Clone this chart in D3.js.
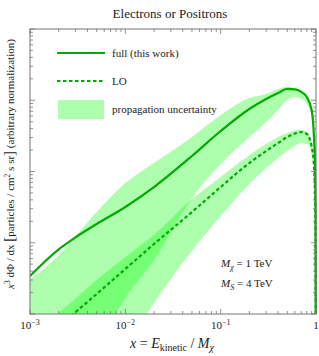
<!DOCTYPE html>
<html>
<head>
<meta charset="utf-8">
<script src="https://cdn.jsdelivr.net/npm/d3@7"></script>
<style>
  body { margin: 0; background: #fff; }
  text { font-family: "Liberation Serif", "DejaVu Serif", serif; fill: #222; }
</style>
</head>
<body>
<script>
//values, x = E_kinetic / M_chi
var xVals = [0.001, 0.002, 0.003, 0.005, 0.01, 0.02, 0.05, 0.1, 0.2, 0.3, 0.4, 0.5, 0.6, 0.7, 0.8, 0.9, 0.95, 0.98, 0.99, 0.999];
//full (this work)
var fullVals = [3.41e-4, 8.07e-4, 1.19e-3, 1.83e-3, 3.18e-3, 6.05e-3, 0.0165, 0.037, 0.0753, 0.104, 0.126, 0.144, 0.142, 0.131, 0.111, 0.073, 0.0325, 0.0105, 0.0021, 1e-7];
//LO
var loVals = [3.0e-5, 6.6e-5, 1.06e-4, 1.91e-4, 4.29e-4, 9.6e-4, 2.7e-3, 6.05e-3, 0.01315, 0.0194, 0.0251, 0.0305, 0.0341, 0.0358, 0.0336, 0.0228, 0.0123, 0.004, 7.9e-4, 1e-7];
//propagation uncertainty bands
var fullUpper = [3.1e-4, 6.7e-4, 1.24e-3, 2.7e-3, 6.9e-3, 0.0132, 0.0305, 0.062, 0.1076, 0.1225, 0.144, 0.153, 0.146, 0.133, 0.113, 0.074, 0.033, 0.0106, 0.0021, 1e-7];
var fullLower = [8.9e-7, 4.5e-6, 1.12e-5, 3.56e-5, 1.68e-4, 5.73e-4, 4.25e-3, 0.0127, 0.0305, 0.0495, 0.073, 0.101, 0.111, 0.104, 0.0885, 0.060, 0.0277, 0.0089, 0.00177, 1e-7];
var loUpper = [4.5e-5, 1.03e-4, 1.65e-4, 3.0e-4, 6.3e-4, 1.29e-3, 4.1e-3, 8.4e-3, 0.0171, 0.0243, 0.0305, 0.0347, 0.0376, 0.0382, 0.0358, 0.0243, 0.0131, 0.00425, 8.4e-4, 1e-7];
var loLower = [2.9e-7, 1.19e-6, 2.77e-6, 8.0e-6, 3.33e-5, 1.43e-4, 7.7e-4, 2.37e-3, 6.7e-3, 0.0112, 0.0155, 0.0194, 0.0228, 0.0251, 0.0243, 0.0176, 0.00984, 0.0034, 6.7e-4, 1e-7];

//tick labels
var xMajor = [0.001, 0.01, 0.1, 1];
var xLabels = [["10", "\u22123"], ["10", "\u22122"], ["10", "\u22121"], ["1", ""]];
var yMajor = [1e-4, 1e-3, 1e-2, 1e-1, 1];

var width = 319, height = 356;
var plot = {left: 30, right: 316, top: 29, bottom: 314};

var green = "#00aa00";
var bandFill = "rgb(0,255,0)";
var bandOpacity = 0.32;

var svg = d3.select("body").append("svg")
    .attr("width", width)
    .attr("height", height);

var x = d3.scaleLog().domain([1e-3, 1]).range([plot.left, plot.right]);
var y = d3.scaleLog().domain([1e-4, 1]).range([plot.bottom, plot.top]);

//minor tick values 2..9 for each decade
function minors(lo, hi) {
    var out = [];
    for (var e = lo; e < hi; e++) {
        for (var m = 2; m <= 9; m++) out.push(m * Math.pow(10, e));
    }
    return out;
}
var xMinor = minors(-3, 0);
var yMinor = minors(-4, 0);

svg.append("clipPath").attr("id", "clip")
  .append("rect")
    .attr("x", plot.left)
    .attr("y", plot.top)
    .attr("width", plot.right - plot.left + 2)
    .attr("height", plot.bottom - plot.top);

var g = svg.append("g").attr("clip-path", "url(#clip)");

//bands
function band(upper, lower) {
    return d3.area()
        .x(function(d, i) { return x(xVals[i]); })
        .y0(function(d, i) { return y(lower[i]); })
        .y1(function(d, i) { return y(upper[i]); })
        .curve(d3.curveMonotoneX)(xVals);
}
g.append("path")
    .attr("d", band(fullUpper, fullLower))
    .attr("fill", bandFill)
    .attr("fill-opacity", bandOpacity);
g.append("path")
    .attr("d", band(loUpper, loLower))
    .attr("fill", bandFill)
    .attr("fill-opacity", bandOpacity);

//curves
var line = d3.line()
    .x(function(d, i) { return x(xVals[i]); })
    .y(function(d) { return y(d); })
    .curve(d3.curveMonotoneX);

g.append("path")
    .attr("d", line(fullVals))
    .attr("fill", "none")
    .attr("stroke", green)
    .attr("stroke-width", 2.2);

g.append("path")
    .attr("d", line(loVals))
    .attr("fill", "none")
    .attr("stroke", green)
    .attr("stroke-width", 2.2)
    .attr("stroke-dasharray", "3.5,2.5");

//frame
svg.append("rect")
    .attr("x", plot.left)
    .attr("y", plot.top)
    .attr("width", plot.right - plot.left)
    .attr("height", plot.bottom - plot.top)
    .attr("fill", "none")
    .attr("stroke", "#777")
    .attr("stroke-width", 1);

//ticks on all four sides, pointing in
var ticks = svg.append("g").attr("stroke", "#777").attr("stroke-width", 0.8);
function xTicks(vals, len) {
    vals.forEach(function(v) {
        ticks.append("line").attr("x1", x(v)).attr("x2", x(v))
            .attr("y1", plot.bottom).attr("y2", plot.bottom - len);
        ticks.append("line").attr("x1", x(v)).attr("x2", x(v))
            .attr("y1", plot.top).attr("y2", plot.top + len);
    });
}
function yTicks(vals, len) {
    vals.forEach(function(v) {
        ticks.append("line").attr("y1", y(v)).attr("y2", y(v))
            .attr("x1", plot.left).attr("x2", plot.left + len);
        ticks.append("line").attr("y1", y(v)).attr("y2", y(v))
            .attr("x1", plot.right).attr("x2", plot.right - len);
    });
}
xTicks(xMajor, 5);
xTicks(xMinor, 3);
yTicks(yMajor, 5);
yTicks(yMinor, 3);

//x tick labels
var xl = svg.append("g").selectAll("text")
    .data(xLabels)
    .enter().append("text")
    .attr("x", function(d, i) { return x(xMajor[i]); })
    .attr("y", 329)
    .attr("text-anchor", "middle")
    .attr("font-size", 11);
xl.append("tspan").text(function(d) { return d[0]; });
xl.append("tspan")
    .attr("dy", -4)
    .attr("font-size", 8)
    .text(function(d) { return d[1]; });

//title
svg.append("text")
    .attr("x", 170)
    .attr("y", 18)
    .attr("text-anchor", "middle")
    .attr("font-size", 13)
    .text("Electrons or Positrons");

//x axis title
var xt = svg.append("text")
    .attr("x", 172)
    .attr("y", 348)
    .attr("text-anchor", "middle")
    .attr("font-size", 14);
xt.append("tspan").attr("font-style", "italic").text("x");
xt.append("tspan").text(" = ");
xt.append("tspan").attr("font-style", "italic").text("E");
xt.append("tspan").attr("font-size", 10).attr("dy", 3).text("kinetic");
xt.append("tspan").attr("dy", -3).text(" / ");
xt.append("tspan").attr("font-style", "italic").text("M");
xt.append("tspan").attr("font-size", 10).attr("dy", 3).attr("font-style", "italic").text("\u03c7");

//y axis title
var yt = svg.append("text")
    .attr("transform", "translate(14,164) rotate(-90)")
    .attr("text-anchor", "middle")
    .attr("font-size", 11);
yt.append("tspan").attr("font-style", "italic").text("x");
yt.append("tspan").attr("font-size", 7.5).attr("dy", -4).text("3");
yt.append("tspan").attr("dy", 4).text(" d\u03a6 / dx ");
yt.append("tspan").attr("font-size", 15).text("[");
yt.append("tspan").text("particles / cm");
yt.append("tspan").attr("font-size", 7.5).attr("dy", -4).text("2");
yt.append("tspan").attr("dy", 4).text(" s sr");
yt.append("tspan").attr("font-size", 15).text("]");
yt.append("tspan").text(" (arbitrary normalization)");

//legend
var legend = svg.append("g");
legend.append("line")
    .attr("x1", 57).attr("x2", 105).attr("y1", 53).attr("y2", 53)
    .attr("stroke", green).attr("stroke-width", 2.2);
legend.append("text").attr("x", 112).attr("y", 56.5).attr("font-size", 11)
    .text("full (this work)");
legend.append("line")
    .attr("x1", 57).attr("x2", 105).attr("y1", 81).attr("y2", 81)
    .attr("stroke", green).attr("stroke-width", 2.2)
    .attr("stroke-dasharray", "3.5,2.5");
legend.append("text").attr("x", 112).attr("y", 84.5).attr("font-size", 11)
    .text("LO");
legend.append("rect")
    .attr("x", 58).attr("y", 100).attr("width", 46).attr("height", 19)
    .attr("fill", bandFill).attr("fill-opacity", bandOpacity);
legend.append("text").attr("x", 112).attr("y", 113).attr("font-size", 11)
    .text("propagation uncertainty");

//mass annotations
var m1 = svg.append("text").attr("x", 221).attr("y", 267).attr("font-size", 11);
m1.append("tspan").attr("font-style", "italic").text("M");
m1.append("tspan").attr("font-size", 8).attr("dy", 2.5).attr("font-style", "italic").text("\u03c7");
m1.append("tspan").attr("dy", -2.5).text(" = 1 TeV");

var m2 = svg.append("text").attr("x", 221).attr("y", 287).attr("font-size", 11);
m2.append("tspan").attr("font-style", "italic").text("M");
m2.append("tspan").attr("font-size", 8).attr("dy", 2.5).attr("font-style", "italic").text("S");
m2.append("tspan").attr("dy", -2.5).text(" = 4 TeV");
</script>
</body>
</html>
